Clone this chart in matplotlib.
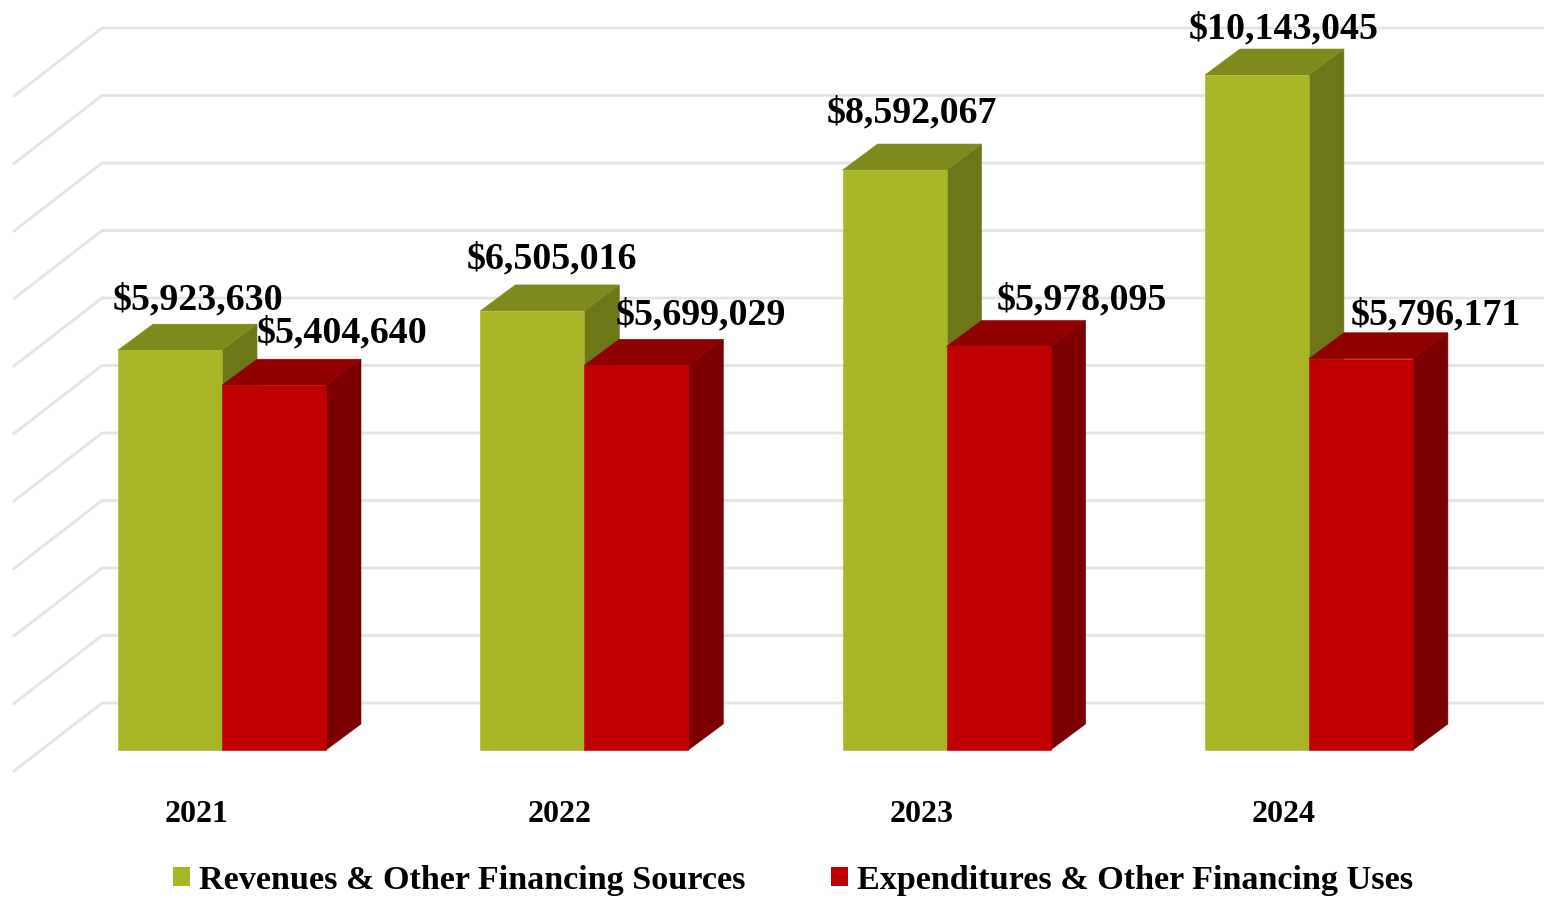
import matplotlib
matplotlib.use("Agg")
import matplotlib.pyplot as plt
from matplotlib.patches import Polygon, Patch

years = ["2021", "2022", "2023", "2024"]
revenues = [5923630, 6505016, 8592067, 10143045]
expenditures = [5404640, 5699029, 5978095, 5796171]
grid_values = list(range(0, 10000001, 1000000))
axis_max = 10000000

W, H = 1544, 898
PX_PER_CAT = 362.3
PX_PER_USD = 675 / axis_max
CAT0_PX = 222
BAR_W = 104 / PX_PER_CAT
DX, DY = 35 / PX_PER_CAT, 26 / PX_PER_USD      # bar depth
WALL_DY = 47 / PX_PER_USD                      # floor to back wall
WALL_L = (102 - CAT0_PX) / PX_PER_CAT
SIDE_L = (14 - CAT0_PX) / PX_PER_CAT
SIDE_DY = 68 / PX_PER_USD

OLIVE = ("#A8B526", "#7F8A1C", "#6E7717")
RED = ("#C00000", "#900000", "#7C0000")
FONT = ["Liberation Serif", "DejaVu Serif"]

fig = plt.figure(figsize=(W / 100, H / 100), dpi=100)
ax = fig.add_axes([0, (H - 750) / H, 1, 675 / H])
ax.set_xlim(-CAT0_PX / PX_PER_CAT, (W - CAT0_PX) / PX_PER_CAT)
ax.set_ylim(0, axis_max)
for s in ax.spines.values():
    s.set_visible(False)
ax.set_yticks([])
ax.patch.set_alpha(0)

# walls
for g in grid_values:
    yb = g + WALL_DY
    ax.plot([SIDE_L, WALL_L, ax.get_xlim()[1]], [yb - SIDE_DY, yb, yb], color="#E4E4E4",
            lw=2.0, clip_on=False, zorder=1, solid_joinstyle="miter")

def bar3d(x0, v, cols, z):
    h = min(v, axis_max)
    x1 = x0 + BAR_W
    kw = dict(lw=0.4, clip_on=False)
    ax.add_patch(Polygon([(x0, 0), (x1, 0), (x1, h), (x0, h)], fc=cols[0], ec=cols[0], zorder=z + 0.2, **kw))
    ax.add_patch(Polygon([(x0, h), (x1, h), (x1 + DX, h + DY), (x0 + DX, h + DY)], fc=cols[1], ec=cols[1], zorder=z + 0.1, **kw))
    ax.add_patch(Polygon([(x1, 0), (x1 + DX, DY), (x1 + DX, h + DY), (x1, h)], fc=cols[2], ec=cols[2], zorder=z, **kw))

# manual label placement of the original (pixels from the front-face top centre)
rev_off = [(28, 50), (20, 52), (17, 57), (27, 46)]
exp_off = [(68, 52), (65, 50), (83, 46), (75, 44)]

for i in range(len(years)):
    bar3d(i - BAR_W, revenues[i], OLIVE, 2 + i)
    bar3d(i, expenditures[i], RED, 2.5 + i)
    for v, xc, off in ((revenues[i], i - BAR_W / 2, rev_off[i]), (expenditures[i], i + BAR_W / 2, exp_off[i])):
        ax.annotate(f"${v:,}", (xc, min(v, axis_max)), xytext=off, textcoords="offset pixels",
                    ha="center", va="center", fontsize=27.3, fontweight="bold", family=FONT,
                    color="black", zorder=20, annotation_clip=False)

ax.set_xticks([i - 25 / PX_PER_CAT for i in range(len(years))], years)
ax.tick_params(axis="x", length=0, pad=36.3)
for t in ax.get_xticklabels():
    t.set_fontsize(23)
    t.set_fontweight("bold")
    t.set_family(FONT)

handles = [Patch(fc=OLIVE[0], ec="none", label="Revenues & Other Financing Sources"),
           Patch(fc=RED[0], ec="none", label="Expenditures & Other Financing Uses")]
fig.legend(handles=handles, loc="center", bbox_to_anchor=(793 / W, 1 - 880 / H), ncol=2, frameon=False,
           prop={"family": FONT, "weight": "bold", "size": 24.6}, handlelength=0.5, handleheight=0.5,
           handletextpad=0.25, columnspacing=2.5, borderpad=0, borderaxespad=0)

fig.savefig("out.png", dpi=100, facecolor="white")
